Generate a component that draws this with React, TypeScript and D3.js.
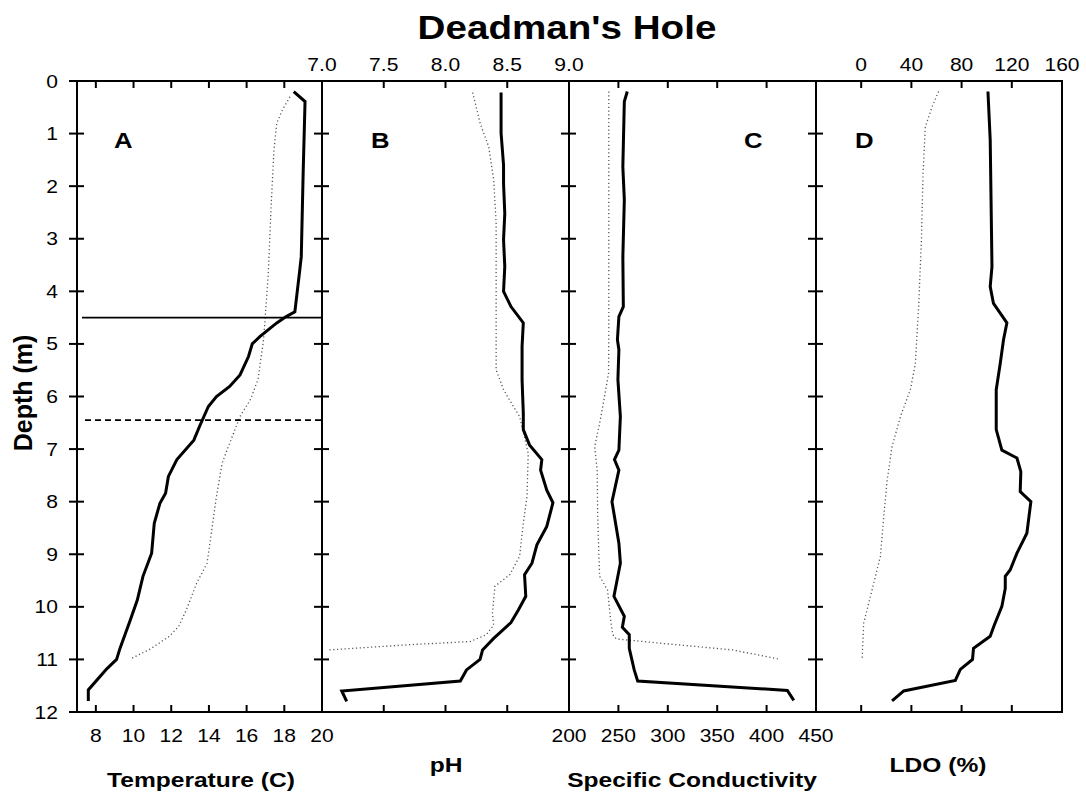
import React from "react";
import * as d3 from "d3";

// ---------- data ----------
const depthTicks = [0, 1, 2, 3, 4, 5, 6, 7, 8, 9, 10, 11, 12];
const tempTicks = [8, 10, 12, 14, 16, 18, 20];
const phTicks = [7.0, 7.5, 8.0, 8.5, 9.0];
const condTicks = [200, 250, 300, 350, 400, 450];
const ldoTicks = [0, 40, 80, 120, 160];

const tempSolidDepth = [0.2, 0.39, 1.75, 3.34, 3.66, 4.39, 4.48, 4.6, 4.86, 5.0, 5.24, 5.59, 5.81, 6.0, 6.19, 6.57, 6.83, 7.2, 7.52, 7.84, 8.03, 8.41, 8.98, 9.42, 9.87, 10.28, 10.79, 11.0, 11.18, 11.58, 11.79];
const tempSolidValue = [18.5, 19.1, 19.0, 18.9, 18.8, 18.56, 18.1, 17.6, 16.7, 16.3, 16.1, 15.65, 15.1, 14.4, 13.97, 13.5, 13.2, 12.3, 11.85, 11.7, 11.4, 11.1, 10.96, 10.5, 10.2, 9.8, 9.28, 9.1, 8.58, 7.6, 7.6];
const tempDotDepth = [0.3, 0.55, 0.8, 1.31, 2.39, 3.66, 4.42, 4.92, 5.68, 6.06, 6.38, 6.89, 7.27, 7.9, 8.54, 9.17, 9.55, 10.06, 10.37, 10.56, 10.8, 10.98];
const tempDotValue = [18.3, 17.9, 17.6, 17.45, 17.3, 17.15, 17.0, 16.9, 16.6, 16.2, 15.65, 15.1, 14.7, 14.4, 14.15, 13.9, 13.35, 12.8, 12.4, 11.9, 10.9, 9.9];

const phSolidDepth = [0.22, 0.99, 1.6, 1.95, 2.52, 3.02, 3.53, 4.0, 4.29, 4.6, 5.05, 5.68, 6.32, 6.63, 6.92, 7.2, 7.4, 7.78, 8.02, 8.47, 8.82, 9.17, 9.39, 9.8, 10.06, 10.3, 10.6, 10.82, 11.0, 11.2, 11.41, 11.6, 11.8];
const phSolidValue = [8.45, 8.45, 8.47, 8.47, 8.48, 8.47, 8.48, 8.47, 8.53, 8.63, 8.62, 8.62, 8.63, 8.63, 8.68, 8.78, 8.77, 8.82, 8.87, 8.82, 8.74, 8.7, 8.64, 8.65, 8.59, 8.53, 8.39, 8.3, 8.28, 8.17, 8.12, 7.16, 7.2];
const phDotDepth = [0.22, 0.8, 1.25, 1.88, 2.7, 3.66, 4.8, 5.49, 5.87, 6.19, 6.38, 7.08, 7.9, 8.41, 9.04, 9.39, 9.61, 10.12, 10.35, 10.53, 10.66, 10.72, 10.82];
const phDotValue = [8.22, 8.28, 8.35, 8.39, 8.41, 8.41, 8.41, 8.41, 8.47, 8.55, 8.6, 8.67, 8.66, 8.63, 8.6, 8.52, 8.4, 8.38, 8.39, 8.33, 8.2, 7.71, 7.06];

const condSolidDepth = [0.2, 0.39, 1.63, 2.26, 3.34, 4.29, 4.48, 4.92, 5.11, 5.68, 6.38, 7.02, 7.2, 7.4, 8.0, 8.79, 9.17, 9.8, 10.18, 10.39, 10.53, 10.79, 11.2, 11.41, 11.59, 11.78];
const condSolidValue = [259, 256, 254.5, 256, 254.5, 255, 250.5, 249, 250.5, 249.5, 252, 250.5, 246, 250.5, 243.5, 250.5, 252, 245.5, 256, 254, 261, 261, 266, 269.5, 421, 427.5];
const condDotDepth = [0.2, 4.8, 5.56, 6.0, 6.51, 6.95, 7.4, 8.22, 8.86, 9.42, 9.68, 10.31, 10.53, 10.61, 10.69, 10.82, 10.99];
const condDotValue = [240.3, 240.3, 240, 236, 231, 226, 228.5, 229, 230, 231, 239, 242.5, 244.3, 247.8, 291.6, 365.8, 411.3];

const ldoSolidDepth = [0.2, 1.12, 3.53, 3.91, 4.23, 4.6, 4.92, 5.37, 5.87, 6.63, 7.02, 7.17, 7.43, 7.81, 8.0, 8.6, 8.98, 9.3, 9.42, 9.65, 9.99, 10.35, 10.56, 10.79, 11.0, 11.19, 11.4, 11.6, 11.79];
const ldoSolidValue = [101, 102.8, 104.2, 102.8, 105.4, 116.1, 113.4, 110.8, 107.6, 107.6, 112.1, 124.1, 127.2, 126.7, 135.2, 132, 124.1, 118.7, 114.8, 114.8, 112.1, 106, 102.8, 89.5, 88.7, 79, 75, 33.9, 24.6];
const ldoDotDepth = [0.2, 0.49, 0.87, 1.75, 3.02, 4.29, 4.8, 5.37, 5.87, 6.38, 6.95, 7.59, 8.28, 9.04, 9.55, 10.31, 10.98];
const ldoDotValue = [61.7, 56.5, 51.1, 49.3, 48, 45.8, 44.5, 43.2, 39.2, 31.3, 24.6, 20.7, 18, 15.3, 10, 2, 0.8];

const thermoclineTop = 4.5;
const thermoclineBottom = 6.45;

// ---------- layout ----------
const W = 1086;
const H = 794;
const TOP = 81;
const BOTTOM = 712;
const FONT = "'Liberation Sans', Arial, sans-serif";
const SX = 1.17;

const y = d3.scaleLinear().domain([0, 12]).range([TOP, BOTTOM]);
const xA = d3.scaleLinear().domain([7, 20]).range([77, 322]);
const xB = d3.scaleLinear().domain([7, 9]).range([322, 569]);
const xC = d3.scaleLinear().domain([200, 450]).range([569, 816]);
const xD = d3.scaleLinear().domain([-36, 160]).range([816, 1062]);

function zip(d: number[], v: number[]): [number, number][] {
  return d.map((dd, i) => [v[i], dd]);
}

function pathFor(x: d3.ScaleLinear<number, number>, d: number[], v: number[]) {
  const line = d3
    .line<[number, number]>()
    .x((p) => x(p[0]))
    .y((p) => y(p[1]));
  return line(zip(d, v)) || "";
}

function T(props: {
  x: number;
  y: number;
  size: number;
  anchor?: string;
  bold?: boolean;
  children: React.ReactNode;
  rotate?: number;
  sx?: number;
}) {
  const { x, y: yy, size, anchor = "middle", bold, children, rotate, sx = SX } = props;
  return (
    <text
      transform={`translate(${x},${yy}) scale(${sx},1)${rotate ? ` rotate(${rotate})` : ""}`}
      textAnchor={anchor}
      fontSize={size}
      fontWeight={bold ? "bold" : "normal"}
      fontFamily={FONT}
      fill="#000"
    >
      {children}
    </text>
  );
}

export default function App() {
  const panels = [
    { x: xA, ticks: tempTicks.filter((t) => t < 20), letter: "A", lx: 114, sd: tempSolidDepth, sv: tempSolidValue, dd: tempDotDepth, dv: tempDotValue },
    { x: xB, ticks: phTicks.filter((t) => t > 7 && t < 9), letter: "B", lx: 371, sd: phSolidDepth, sv: phSolidValue, dd: phDotDepth, dv: phDotValue },
    { x: xC, ticks: condTicks.filter((t) => t > 200 && t < 450), letter: "C", lx: 744, sd: condSolidDepth, sv: condSolidValue, dd: condDotDepth, dv: condDotValue },
    { x: xD, ticks: ldoTicks.filter((t) => t < 160), letter: "D", lx: 855, sd: ldoSolidDepth, sv: ldoSolidValue, dd: ldoDotDepth, dv: ldoDotValue },
  ];
  const boundaries = [77, 322, 569, 816];

  return (
    <svg
      width={W}
      height={H}
      style={{ position: "absolute", left: 0, top: 0, background: "#fff" }}
    >
      <rect x={0} y={0} width={W} height={H} fill="#fff" />
      <T x={567} y={39} size={33} bold>
        Deadman's Hole
      </T>

      {/* data */}
      {panels.map((p, i) => (
        <g key={"d" + i}>
          <path
            d={pathFor(p.x, p.dd, p.dv)}
            fill="none"
            stroke="#555"
            strokeWidth={1.3}
            strokeDasharray="1.2,2.6"
          />
          <path
            d={pathFor(p.x, p.sd, p.sv)}
            fill="none"
            stroke="#000"
            strokeWidth={3}
            strokeLinejoin="miter"
          />
        </g>
      ))}

      {/* thermocline lines */}
      <line x1={82} x2={322} y1={y(thermoclineTop)} y2={y(thermoclineTop)} stroke="#000" strokeWidth={1.8} />
      <line x1={85} x2={322} y1={y(thermoclineBottom)} y2={y(thermoclineBottom)} stroke="#000" strokeWidth={1.8} strokeDasharray="6,4" />

      {/* frames and ticks */}
      {panels.map((p, i) => {
        const [r0, r1] = p.x.range();
        return (
          <g key={"f" + i}>
            <rect x={r0} y={TOP} width={r1 - r0} height={BOTTOM - TOP} fill="none" stroke="#000" strokeWidth={2} />
            {p.ticks.map((t) => (
              <g key={t}>
                <line x1={p.x(t)} x2={p.x(t)} y1={TOP} y2={TOP + 7} stroke="#000" strokeWidth={2} />
                <line x1={p.x(t)} x2={p.x(t)} y1={BOTTOM} y2={BOTTOM - 7} stroke="#000" strokeWidth={2} />
              </g>
            ))}
            <T x={p.lx} y={148} size={22} anchor="start" bold>
              {p.letter}
            </T>
          </g>
        );
      })}
      {boundaries.map((bx) =>
        depthTicks.map((d) => (
          <line key={bx + "-" + d} x1={bx - 8} x2={bx + 7} y1={y(d)} y2={y(d)} stroke="#000" strokeWidth={2} />
        ))
      )}

      {/* depth labels */}
      {depthTicks.map((d) => (
        <T key={"dl" + d} x={58} y={y(d) + 6.5} size={18} anchor="end">
          {d}
        </T>
      ))}
      <T x={32} y={393} size={25} bold rotate={-90} sx={1}>
        Depth (m)
      </T>

      {/* bottom labels */}
      {tempTicks.map((t) => (
        <T key={"tl" + t} x={xA(t)} y={742} size={18}>
          {t}
        </T>
      ))}
      {condTicks.map((t) => (
        <T key={"cl" + t} x={xC(t)} y={742} size={18}>
          {t}
        </T>
      ))}
      {/* top labels */}
      {phTicks.map((t) => (
        <T key={"pl" + t} x={xB(t)} y={71} size={18}>
          {t.toFixed(1)}
        </T>
      ))}
      {ldoTicks.map((t) => (
        <T key={"ll" + t} x={xD(t)} y={71} size={18}>
          {t}
        </T>
      ))}

      {/* axis titles */}
      <T x={201} y={787} size={21} bold>
        Temperature (C)
      </T>
      <T x={446} y={772} size={21} bold>
        pH
      </T>
      <T x={692} y={787} size={21} bold>
        Specific Conductivity
      </T>
      <T x={938} y={772} size={21} bold>
        LDO (%)
      </T>
    </svg>
  );
}
